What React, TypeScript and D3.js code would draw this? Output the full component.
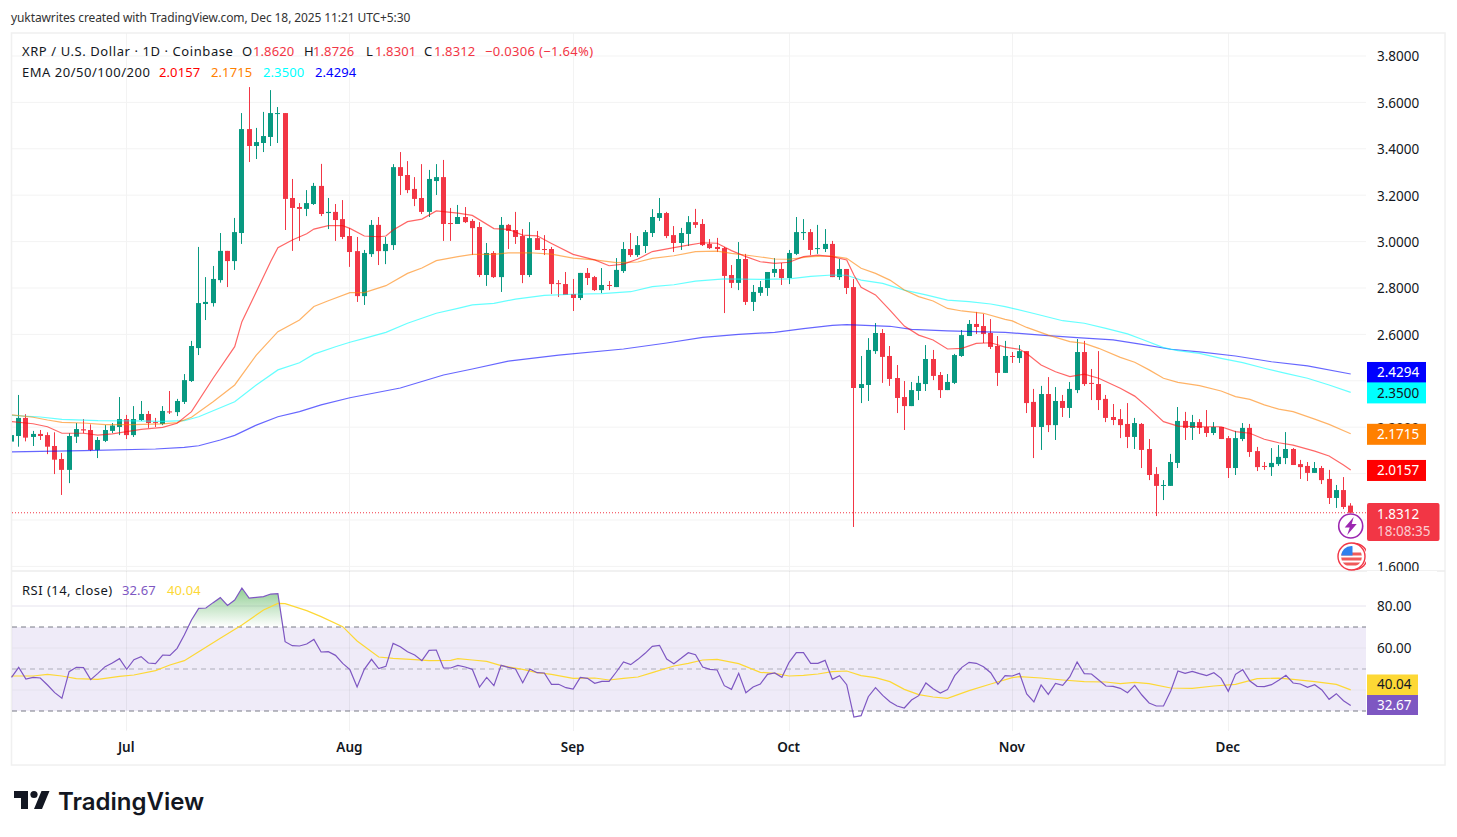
import * as d3 from 'd3';
import { useEffect, useRef } from 'react';

const FONT = '"Noto Sans", sans-serif';
const UP = '#089981';
const DOWN = '#F23645';

// daily candles, 15 Jun 2025 to 18 Dec 2025
const opens = [
  2.138,2.162,2.240,2.158,2.171,2.166,2.119,2.063,2.016,2.159,
  2.191,2.188,2.102,2.141,2.184,2.201,2.235,2.166,2.231,2.257,
  2.222,2.214,2.268,2.265,2.309,2.399,2.541,2.731,2.735,2.834,
  2.960,2.916,3.037,3.485,3.412,3.425,3.451,3.550,3.554,3.188,
  3.149,3.141,3.162,3.240,3.123,3.128,3.097,3.024,2.959,2.765,
  2.946,3.072,2.959,2.985,3.321,3.287,3.227,3.188,3.128,3.261,
  3.278,3.080,3.076,3.106,3.089,3.063,2.856,2.951,2.847,3.072,
  3.050,3.024,2.856,3.015,2.968,2.968,2.821,2.817,2.774,2.757,
  2.865,2.847,2.791,2.813,2.804,2.873,2.968,2.942,2.981,3.037,
  3.102,3.123,3.028,2.994,3.033,3.084,3.076,2.990,2.977,2.972,
  2.856,2.822,2.925,2.740,2.779,2.800,2.865,2.882,2.843,2.947,
  3.037,3.041,2.968,2.968,2.990,2.847,2.882,2.804,2.369,2.382,
  2.528,2.606,2.507,2.412,2.330,2.291,2.356,2.386,2.494,2.425,
  2.360,2.391,2.507,2.593,2.645,2.636,2.606,2.550,2.434,2.507,
  2.498,2.528,2.309,2.201,2.343,2.209,2.313,2.283,2.360,2.524,
  2.391,2.386,2.322,2.244,2.235,2.214,2.158,2.214,2.106,1.998,
  1.948,1.947,2.046,2.227,2.197,2.222,2.201,2.175,2.201,2.153,
  2.024,2.149,2.197,2.097,2.033,2.028,2.041,2.067,2.106,2.041,
  2.033,2.003,2.024,1.977,1.895,1.929,1.862,
];
const highs = [
  2.166,2.339,2.256,2.184,2.188,2.178,2.178,2.089,2.174,2.218,
  2.235,2.212,2.158,2.209,2.218,2.330,2.253,2.291,2.313,2.270,
  2.240,2.291,2.356,2.322,2.429,2.572,2.977,2.847,2.895,3.037,
  2.960,3.102,3.554,3.666,3.490,3.559,3.653,3.580,3.554,3.270,
  3.166,3.222,3.253,3.335,3.188,3.162,3.179,3.058,3.020,2.964,
  3.093,3.106,3.020,3.334,3.386,3.347,3.278,3.334,3.309,3.334,
  3.352,3.145,3.158,3.149,3.097,3.084,2.994,2.959,3.106,3.076,
  3.128,3.054,3.084,3.046,3.028,2.977,2.834,2.869,2.839,2.865,
  2.886,2.852,2.886,2.830,2.929,2.998,3.037,3.024,3.050,3.140,
  3.188,3.128,3.067,3.059,3.110,3.141,3.097,3.011,3.016,2.977,
  2.899,2.998,2.947,2.813,2.830,2.869,2.929,2.908,2.964,3.106,
  3.097,3.054,3.072,3.054,3.003,2.925,2.882,2.839,2.507,2.584,
  2.649,2.623,2.550,2.468,2.399,2.395,2.421,2.554,2.533,2.438,
  2.429,2.516,2.619,2.662,2.697,2.688,2.666,2.593,2.572,2.524,
  2.554,2.528,2.365,2.378,2.416,2.373,2.339,2.395,2.580,2.572,
  2.451,2.528,2.339,2.300,2.278,2.304,2.240,2.218,2.149,2.028,
  1.972,2.085,2.287,2.266,2.253,2.235,2.274,2.222,2.201,2.162,
  2.184,2.218,2.214,2.115,2.050,2.110,2.123,2.179,2.110,2.059,
  2.050,2.050,2.033,2.016,1.951,1.985,1.8726,
];
const lows = [
  2.138,2.116,2.139,2.119,2.145,2.084,1.998,1.908,1.959,2.132,
  2.174,2.097,2.067,2.136,2.175,2.166,2.149,2.158,2.227,2.197,
  2.201,2.209,2.257,2.248,2.300,2.395,2.511,2.662,2.720,2.823,
  2.804,2.878,2.990,3.343,3.356,3.386,3.412,3.425,3.050,2.960,
  3.003,3.110,3.158,3.110,3.054,3.003,3.011,2.891,2.740,2.727,
  2.934,2.899,2.903,2.964,3.201,3.209,3.153,3.119,3.106,3.201,
  3.003,3.003,3.076,3.080,2.942,2.847,2.809,2.843,2.783,2.968,
  2.990,2.821,2.847,2.964,2.942,2.774,2.761,2.770,2.701,2.748,
  2.813,2.787,2.778,2.791,2.804,2.865,2.934,2.934,2.951,3.020,
  3.089,3.015,2.955,2.964,2.981,3.059,2.981,2.968,2.955,2.692,
  2.800,2.791,2.727,2.701,2.766,2.766,2.847,2.813,2.817,2.942,
  3.007,2.942,2.947,2.955,2.847,2.835,2.774,1.770,2.304,2.313,
  2.516,2.391,2.378,2.261,2.188,2.291,2.317,2.356,2.403,2.326,
  2.360,2.386,2.503,2.593,2.602,2.563,2.537,2.378,2.434,2.477,
  2.477,2.261,2.067,2.102,2.179,2.145,2.244,2.240,2.347,2.378,
  2.317,2.274,2.222,2.209,2.153,2.110,2.106,2.024,1.972,1.817,
  1.886,1.947,2.024,2.145,2.145,2.171,2.158,2.166,2.149,1.981,
  1.994,2.140,2.072,2.011,2.016,1.990,2.033,2.041,2.037,1.977,
  1.968,2.003,1.955,1.869,1.852,1.847,1.8301,
];
const closes = [
  2.166,2.240,2.155,2.171,2.162,2.116,2.060,2.016,2.162,2.192,
  2.186,2.102,2.145,2.188,2.207,2.235,2.166,2.235,2.257,2.218,
  2.218,2.270,2.264,2.313,2.403,2.550,2.735,2.740,2.839,2.960,
  2.916,3.041,3.485,3.412,3.429,3.455,3.554,3.554,3.184,3.145,
  3.141,3.166,3.240,3.119,3.128,3.093,3.020,2.955,2.765,2.951,
  3.072,2.959,2.990,3.321,3.283,3.222,3.184,3.128,3.270,3.278,
  3.076,3.076,3.106,3.084,3.058,2.856,2.951,2.847,3.072,3.046,
  3.020,2.856,3.015,2.964,2.965,2.817,2.819,2.770,2.757,2.865,
  2.843,2.791,2.813,2.810,2.878,2.968,2.942,2.985,3.041,3.106,
  3.123,3.024,2.994,3.037,3.084,3.072,2.985,2.972,2.968,2.852,
  2.822,2.925,2.740,2.783,2.804,2.869,2.882,2.843,2.951,3.041,
  3.041,2.964,2.972,2.990,2.847,2.882,2.800,2.369,2.386,2.533,
  2.606,2.503,2.408,2.326,2.291,2.360,2.391,2.494,2.421,2.360,
  2.395,2.511,2.597,2.645,2.632,2.602,2.546,2.434,2.507,2.504,
  2.528,2.304,2.201,2.343,2.209,2.313,2.283,2.365,2.524,2.386,
  2.388,2.317,2.240,2.231,2.209,2.158,2.218,2.102,1.994,1.947,
  1.951,2.050,2.227,2.197,2.222,2.197,2.175,2.201,2.149,2.024,
  2.153,2.197,2.093,2.028,2.030,2.046,2.072,2.106,2.037,2.028,
  2.003,2.024,1.972,1.895,1.929,1.856,1.8312,
];

const ema20Days = [0,3,5,7,10,12,14,16,18,21,23,25,28,31,32,34,36,37,39,41,42,44,46,47,49,51,52,53,55,57,59,62,64,67,69,71,73,75,78,81,83,85,87,89,92,94,96,98,100,102,104,106,108,110,112,114,116,117,118,120,122,124,126,128,130,132,134,136,138,140,141,143,145,147,149,151,154,156,158,160,162,165,168,170,172,174,176,178,181,183,185,186];
const ema20 = [2.224,2.215,2.202,2.174,2.174,2.166,2.171,2.181,2.191,2.199,2.217,2.267,2.411,2.547,2.655,2.784,2.914,2.974,3.007,3.034,3.054,3.069,3.069,3.057,3.024,3.021,3.024,3.050,3.086,3.097,3.132,3.123,3.113,3.056,3.053,3.028,3.025,2.992,2.945,2.921,2.896,2.903,2.925,2.957,2.974,2.985,2.995,2.993,2.961,2.935,2.913,2.906,2.911,2.935,2.942,2.935,2.921,2.856,2.803,2.770,2.705,2.636,2.597,2.576,2.537,2.540,2.561,2.564,2.545,2.536,2.518,2.468,2.439,2.418,2.429,2.411,2.368,2.334,2.281,2.224,2.205,2.202,2.202,2.181,2.174,2.148,2.133,2.123,2.097,2.076,2.037,2.0157];
const ema50Days = [0,3,5,7,10,13,17,21,23,25,28,31,34,37,40,42,44,47,49,52,55,57,59,62,64,67,69,72,75,78,81,84,87,89,92,95,98,100,103,106,108,111,114,116,118,120,122,124,126,128,130,132,135,138,139,141,144,147,149,151,154,156,158,160,162,165,168,170,172,174,176,178,181,183,186];
const ema50 = [2.253,2.243,2.231,2.221,2.218,2.211,2.211,2.214,2.220,2.243,2.310,2.382,2.511,2.612,2.662,2.720,2.745,2.780,2.780,2.810,2.863,2.886,2.918,2.935,2.945,2.945,2.951,2.952,2.946,2.929,2.921,2.909,2.912,2.928,2.939,2.957,2.959,2.949,2.938,2.925,2.924,2.935,2.938,2.928,2.885,2.863,2.834,2.791,2.763,2.744,2.712,2.701,2.691,2.665,2.658,2.630,2.597,2.569,2.561,2.540,2.501,2.480,2.447,2.411,2.393,2.379,2.356,2.332,2.320,2.296,2.278,2.267,2.235,2.212,2.1715];
const ema100Days = [0,4,7,12,17,21,24,26,31,34,37,40,42,45,47,49,52,55,59,62,64,67,70,74,78,82,86,89,92,95,99,104,108,111,114,116,118,121,124,127,130,133,136,138,142,146,149,152,155,157,160,162,165,168,171,174,177,180,183,186];
const ema100 = [2.251,2.244,2.234,2.228,2.227,2.225,2.228,2.245,2.310,2.382,2.447,2.478,2.515,2.547,2.566,2.583,2.609,2.648,2.691,2.712,2.727,2.734,2.752,2.768,2.773,2.776,2.784,2.806,2.814,2.830,2.839,2.837,2.839,2.850,2.856,2.855,2.834,2.820,2.791,2.770,2.748,2.741,2.731,2.720,2.690,2.659,2.648,2.626,2.602,2.579,2.543,2.530,2.518,2.497,2.478,2.454,2.432,2.411,2.382,2.350];
const ema200Days = [0,10,20,24,26,29,31,34,37,40,43,47,54,60,64,69,76,85,91,96,101,106,110,114,116,122,125,130,138,143,148,153,157,161,165,170,175,180,186];
const ema200 = [2.094,2.099,2.106,2.113,2.120,2.145,2.165,2.209,2.245,2.267,2.296,2.327,2.369,2.425,2.451,2.485,2.511,2.537,2.563,2.587,2.600,2.609,2.625,2.639,2.642,2.635,2.622,2.615,2.609,2.597,2.586,2.576,2.557,2.536,2.525,2.507,2.482,2.464,2.4294];

const rsi = [
  46.03,50.79,45.24,46.03,45.71,42.38,38.73,36.03,48.73,50.79,
  50.63,44.92,47.93,51.11,52.86,54.92,49.84,54.44,55.87,52.86,
  52.54,56.66,56.50,59.84,66.19,73.33,78.89,79.05,81.6,83.97,
  80.3,82.85,88.57,83.81,84.1,84.44,85.7,85.87,63.0,61.11,
  60.95,61.9,64.1,58.1,58.25,56.5,52.7,49.68,41.43,49.84,
  54.6,50.16,51.27,62.22,60.63,58.25,56.66,53.97,58.89,59.05,
  50.48,50.48,51.75,50.95,49.84,41.43,46.03,42.06,51.74,50.79,
  50.0,43.49,50.0,48.25,48.1,42.7,42.7,41.1,40.47,46.03,
  45.55,43.17,44.13,44.13,48.57,53.33,52.06,54.6,57.46,60.79,
  61.27,54.76,52.54,55.08,57.78,56.82,50.95,49.84,49.52,42.06,
  40.32,47.93,38.73,41.43,42.86,47.46,48.1,46.03,53.17,57.78,
  57.78,52.7,52.7,54.12,45.08,46.82,42.54,27.14,27.78,36.82,
  41.1,37.46,34.44,32.38,31.43,35.24,37.3,43.33,40.63,38.57,
  40.16,46.82,50.79,53.17,52.7,51.11,48.25,42.7,46.82,46.67,
  47.93,38.09,34.28,42.38,37.93,43.17,42.22,46.35,53.33,47.77,
  47.62,44.76,41.9,41.74,40.79,38.73,42.22,37.62,33.81,32.38,
  32.38,39.52,49.04,47.93,48.89,47.77,46.82,48.25,45.55,39.36,
  47.46,49.68,44.28,41.74,41.58,42.54,44.6,46.98,43.33,42.86,
  41.27,42.54,40.0,35.55,38.25,34.92,32.67,
];
const rsiMaDays = [0,3,5,7,9,12,15,17,20,22,24,26,29,32,35,37,38,41,43,46,48,51,53,56,58,61,62,64,66,68,71,73,75,78,81,83,85,87,89,92,94,96,98,101,104,106,108,110,112,114,116,118,120,122,124,126,128,130,133,136,139,140,143,146,149,152,154,156,158,161,164,167,170,173,176,178,181,184,186];
const rsiMa = [46.66,46.66,47.46,46.66,45.4,45.08,46.5,47.14,49.2,51.9,53.97,58.25,64.6,70.95,78.1,81.27,81.11,77.8,74.92,70.16,63.33,55.71,55.08,54.44,53.97,54.12,54.92,54.29,53.65,51.58,49.84,48.25,47.46,45.55,45.71,44.76,45.55,46.19,48.25,51.42,52.7,54.28,54.6,52.54,48.41,47.93,46.66,46.98,47.62,48.73,49.04,46.82,45.87,43.97,40.32,37.78,36.66,36.03,39.68,42.86,45.87,46.35,45.71,44.76,43.97,43.81,43.0,43.65,43.0,40.95,40.79,41.9,42.7,45.39,45.7,45.08,43.97,42.7,40.04];

const priceTicks = [3.8,3.6,3.4,3.2,3.0,2.8,2.6,2.4,2.2,2.0,1.8,1.6];
// 2.4, 2.0 and 1.8 sit fully behind the value tags
const priceLabels = [3.8,3.6,3.4,3.2,3.0,2.8,2.6,2.2,1.6];
const rsiTicks = [80,60,40];
const rsiLabels = [80,60];
const monthDays = [16,47,78,108,139,169];
const monthNames = ['Jul','Aug','Sep','Oct','Nov','Dec'];

const emaLabels = [
  { value: 2.4294, fill: '#0000FF', text: '#fff', nudge: -1.5 },
  { value: 2.35, fill: '#00FFFF', text: '#131722', nudge: 0.5 },
  { value: 2.1715, fill: '#FF8000', text: '#fff', nudge: 0.5 },
  { value: 2.0157, fill: '#FF0000', text: '#fff', nudge: 0.5 },
];

export default function App() {
  const ref = useRef<SVGSVGElement>(null);

  useEffect(() => {
    if (!ref.current) return;
    const svg = d3.select(ref.current);
    svg.selectAll('*').remove();

    const left = 12, right = 1366, frameRight = 1445, top = 33, sep = 571, rsiBottom = 731, frameBottom = 765;

    const x = d3.scaleLinear().domain([0, 186]).range([11.5, 1350.7]);
    const y = d3.scaleLinear().domain([1.6, 3.8]).range([566.4, 56]);
    const yr = d3.scaleLinear().domain([30, 80]).range([711, 606]);

    const defs = svg.append('defs');
    defs.append('clipPath').attr('id', 'pane').append('rect')
      .attr('x', left).attr('y', top).attr('width', right - left).attr('height', sep - top);
    defs.append('clipPath').attr('id', 'over').append('rect')
      .attr('x', left).attr('y', sep).attr('width', right - left).attr('height', yr(70) - sep);
    const grad = defs.append('linearGradient').attr('id', 'overFill')
      .attr('gradientUnits', 'userSpaceOnUse')
      .attr('x1', 0).attr('x2', 0).attr('y1', yr(88)).attr('y2', yr(70));
    grad.append('stop').attr('offset', 0).attr('stop-color', '#4CAF50').attr('stop-opacity', 0.6);
    grad.append('stop').attr('offset', 1).attr('stop-color', '#4CAF50').attr('stop-opacity', 0);

    svg.append('rect').attr('width', 1457).attr('height', 837).attr('fill', '#fff');

    // caption
    svg.append('text').text('yuktawrites created with TradingView.com, Dec 18, 2025 11:21 UTC+5:30')
      .attr('x', 11).attr('y', 22).attr('font-size', 12).attr('letter-spacing', -0.1).attr('fill', '#333');

    // grid
    const gridColor = '#f3f3f3';
    const hGrid = svg.append('g').attr('stroke', gridColor);
    hGrid.selectAll('line').data(priceTicks).join('line')
      .attr('x1', left).attr('x2', right).attr('y1', (d) => y(d)).attr('y2', (d) => y(d));
    const vGrid = svg.append('g').attr('stroke', gridColor);
    vGrid.selectAll('line').data(monthDays).join('line')
      .attr('x1', (d) => Math.floor(x(d)) + 0.5).attr('x2', (d) => Math.floor(x(d)) + 0.5)
      .attr('y1', top).attr('y2', sep);

    // frame
    svg.append('rect').attr('x', 11.5).attr('y', 33).attr('width', frameRight - 11.5).attr('height', frameBottom - 33)
      .attr('fill', 'none').attr('stroke', '#f0f0f0').attr('stroke-width', 1.5);
    svg.append('line').attr('x1', left).attr('x2', frameRight).attr('y1', sep).attr('y2', sep)
      .attr('stroke', '#ececec').attr('stroke-width', 1.5);

    const pane = svg.append('g').attr('clip-path', 'url(#pane)');

    // last price line
    pane.append('line').attr('x1', left).attr('x2', right).attr('y1', y(1.8312)).attr('y2', y(1.8312))
      .attr('stroke', DOWN).attr('stroke-dasharray', '1 2');

    // candles
    const days = d3.range(opens.length);
    const colour = (i: number) => (closes[i] >= opens[i] ? UP : DOWN);
    pane.append('g').selectAll('rect').data(days).join('rect')
      .attr('x', (i) => Math.floor(x(i)))
      .attr('width', 1)
      .attr('y', (i) => y(highs[i]))
      .attr('height', (i) => y(lows[i]) - y(highs[i]))
      .attr('fill', colour);
    pane.append('g').selectAll('rect').data(days).join('rect')
      .attr('x', (i) => Math.floor(x(i)) - 2)
      .attr('width', 5)
      .attr('y', (i) => y(Math.max(opens[i], closes[i])))
      .attr('height', (i) => Math.max(1, Math.abs(y(opens[i]) - y(closes[i]))))
      .attr('fill', colour);

    // EMA lines
    const priceLine = d3.line<[number, number]>().x((d) => x(d[0])).y((d) => y(d[1]));
    const emaLines: [number[], number[], string][] = [
      [ema200Days, ema200, '#0000FF'],
      [ema100Days, ema100, '#00FFFF'],
      [ema50Days, ema50, '#FF8000'],
      [ema20Days, ema20, '#FF0000'],
    ];
    emaLines.forEach(([d, v, c]) => {
      pane.append('path').attr('d', priceLine(d3.zip(d, v) as [number, number][]))
        .attr('fill', 'none').attr('stroke', c).attr('stroke-width', 1.2).attr('stroke-opacity', 0.6);
    });

    // lightning badge
    const badge = pane.append('g').attr('transform', `translate(${x(186)},526)`);
    badge.append('circle').attr('r', 12).attr('fill', '#fff').attr('stroke', '#9C27B0').attr('stroke-width', 1.6);
    badge.append('path').attr('d', 'M3,-9 L-6,1.5 L-1,1.5 L-3.5,9 L6,-2 L1,-2 Z').attr('fill', '#9C27B0');

    // flag badge
    const flag = pane.append('g').attr('transform', 'translate(1351.5,556.5)');
    flag.append('circle').attr('cx', 3).attr('r', 13).attr('fill', '#fff').attr('stroke', DOWN).attr('stroke-width', 1.4);
    flag.append('circle').attr('r', 13.5).attr('fill', '#fff').attr('stroke', DOWN).attr('stroke-width', 1.4);
    const flagClip = defs.append('clipPath').attr('id', 'flagClip');
    flagClip.append('circle').attr('r', 10.5);
    const flagInner = flag.append('g').attr('clip-path', 'url(#flagClip)');
    flagInner.append('rect').attr('x', -11).attr('y', -11).attr('width', 22).attr('height', 22).attr('fill', '#fff');
    [-4, 1, 6].forEach((s) => {
      flagInner.append('rect').attr('x', -11).attr('y', s).attr('width', 22).attr('height', 3).attr('fill', '#F05A5A');
    });
    flagInner.append('rect').attr('x', -11).attr('y', -11).attr('width', 12).attr('height', 10).attr('fill', '#2F80ED');

    // RSI pane
    const rsiG = svg.append('g');
    rsiG.append('rect').attr('x', left).attr('width', right - left).attr('y', yr(70)).attr('height', yr(30) - yr(70))
      .attr('fill', '#7E57C2').attr('fill-opacity', 0.12);
    rsiG.append('g').selectAll('line').data(rsiTicks).join('line')
      .attr('x1', left).attr('x2', right).attr('y1', (d) => yr(d)).attr('y2', (d) => yr(d))
      .attr('stroke', '#e6e3ee');
    rsiG.append('g').selectAll('line').data(monthDays).join('line')
      .attr('x1', (d) => Math.floor(x(d)) + 0.5).attr('x2', (d) => Math.floor(x(d)) + 0.5)
      .attr('y1', sep).attr('y2', rsiBottom).attr('stroke', '#000').attr('stroke-opacity', 0.05);
    [70, 50, 30].forEach((v) => {
      rsiG.append('line').attr('x1', left).attr('x2', right).attr('y1', yr(v)).attr('y2', yr(v))
        .attr('stroke', '#787B86').attr('stroke-opacity', v === 50 ? 0.55 : 1).attr('stroke-dasharray', '5 4');
    });

    const rsiArea = d3.area<number>().x((_, i) => x(i)).y0(yr(70)).y1((d) => yr(d));
    rsiG.append('path').attr('d', rsiArea(rsi)).attr('fill', 'url(#overFill)').attr('clip-path', 'url(#over)');
    rsiG.append('path').attr('d', d3.line<[number, number]>().x((d) => x(d[0])).y((d) => yr(d[1]))(d3.zip(rsiMaDays, rsiMa) as [number, number][]))
      .attr('fill', 'none').attr('stroke', '#FDD835').attr('stroke-width', 1.2);
    rsiG.append('path').attr('d', d3.line<number>().x((_, i) => x(i)).y((d) => yr(d))(rsi))
      .attr('fill', 'none').attr('stroke', '#7E57C2').attr('stroke-width', 1.2);

    // axes
    const styleAxis = (g: d3.Selection<SVGGElement, unknown, null, undefined>, size: number) => {
      g.select('.domain').remove();
      g.selectAll('text').attr('font-family', FONT).attr('font-size', size).attr('fill', '#131722');
    };
    svg.append('g').attr('transform', 'translate(1367,0.6)')
      .call(d3.axisRight(y).tickValues(priceLabels).tickFormat(d3.format('.4f') as any).tickSize(0).tickPadding(10))
      .call(styleAxis, 13.5);
    svg.append('rect').attr('x', 1367).attr('y', sep).attr('width', 70).attr('height', 10).attr('fill', '#fff');
    svg.append('g').attr('transform', 'translate(1367,0)')
      .call(d3.axisRight(yr).tickValues(rsiLabels).tickFormat(d3.format('.2f') as any).tickSize(0).tickPadding(10))
      .call(styleAxis, 13.5);
    svg.append('g').attr('transform', 'translate(-1,739.5)')
      .call(d3.axisBottom(x).tickValues(monthDays).tickFormat((_, i) => monthNames[i]).tickSize(0).tickPadding(3))
      .call(styleAxis, 13.5)
      .call((g) => g.selectAll('text').attr('font-weight', 600));

    // value labels on the price axis
    const tagText = (tx: number, ty: number, t: string, fill: string) =>
      svg.append('text').text(t).attr('x', tx).attr('y', ty).attr('dy', '0.35em').attr('font-size', 13.5).attr('fill', fill);
    emaLabels.forEach((l) => {
      const cy = y(l.value) + l.nudge;
      svg.append('rect').attr('x', 1367).attr('y', cy - 10.5).attr('width', 59).attr('height', 21).attr('fill', l.fill);
      tagText(1377, cy, l.value.toFixed(4), l.text);
    });
    svg.append('rect').attr('x', 1367).attr('y', 503).attr('width', 72.5).attr('height', 38).attr('rx', 2).attr('fill', DOWN);
    tagText(1377, 514, '1.8312', '#fff');
    tagText(1377, 531, '18:08:35', '#fff').attr('fill-opacity', 0.75);

    svg.append('rect').attr('x', 1367).attr('y', 674.5).attr('width', 51).attr('height', 20.5).attr('fill', '#FDD835');
    tagText(1377, 684.5, '40.04', '#131722');
    svg.append('rect').attr('x', 1367).attr('y', 695).attr('width', 51).attr('height', 20).attr('fill', '#7E57C2');
    tagText(1377, 705, '32.67', '#fff');

    // legends
    const legend = (items: [number, string, string, number?][], ly: number) => {
      items.forEach(([lx, t, c, ls]) => {
        svg.append('text').text(t).attr('x', lx).attr('y', ly).attr('dy', '0.35em').attr('font-size', 13)
          .attr('letter-spacing', ls ?? 0.1).attr('fill', c);
      });
    };
    const ink = '#131722';
    legend([
      [22, 'XRP / U.S. Dollar · 1D · Coinbase', ink, 0.58],
      [242, 'O', ink], [253, '1.8620', DOWN],
      [304, 'H', ink], [313, '1.8726', DOWN],
      [366, 'L', ink], [375, '1.8301', DOWN],
      [424, 'C', ink], [434, '1.8312', DOWN],
      [485, '−0.0306 (−1.64%)', DOWN, 0.32],
    ], 51);
    legend([
      [22, 'EMA 20/50/100/200', ink, 0.52],
      [159, '2.0157', '#FF0000'], [211, '2.1715', '#FF8000'],
      [263, '2.3500', '#00FFFF'], [315, '2.4294', '#0000FF'],
    ], 72);
    legend([
      [22, 'RSI (14, close)', ink, 0.47],
      [122, '32.67', '#7E57C2'], [167, '40.04', '#FDD835'],
    ], 590);

    // logo
    const logo = svg.append('g').attr('transform', 'translate(14,787)').attr('fill', '#131722');
    logo.append('path').attr('d', 'M14 22H7V11H0V4h14v18zM28 22h-8l7.5-18h8L28 22z');
    logo.append('circle').attr('cx', 20).attr('cy', 7.5).attr('r', 3.6);
    svg.append('text').text('TradingView').attr('x', 58).attr('y', 809.5)
      .attr('font-family', 'Inter, sans-serif').attr('font-weight', 600).attr('font-size', 24).attr('fill', '#131722');
  }, []);

  return (
    <svg
      ref={ref}
      width={1457}
      height={837}
      fontFamily={FONT}
      style={{ position: 'absolute', left: 0, top: 0 }}
    />
  );
}
